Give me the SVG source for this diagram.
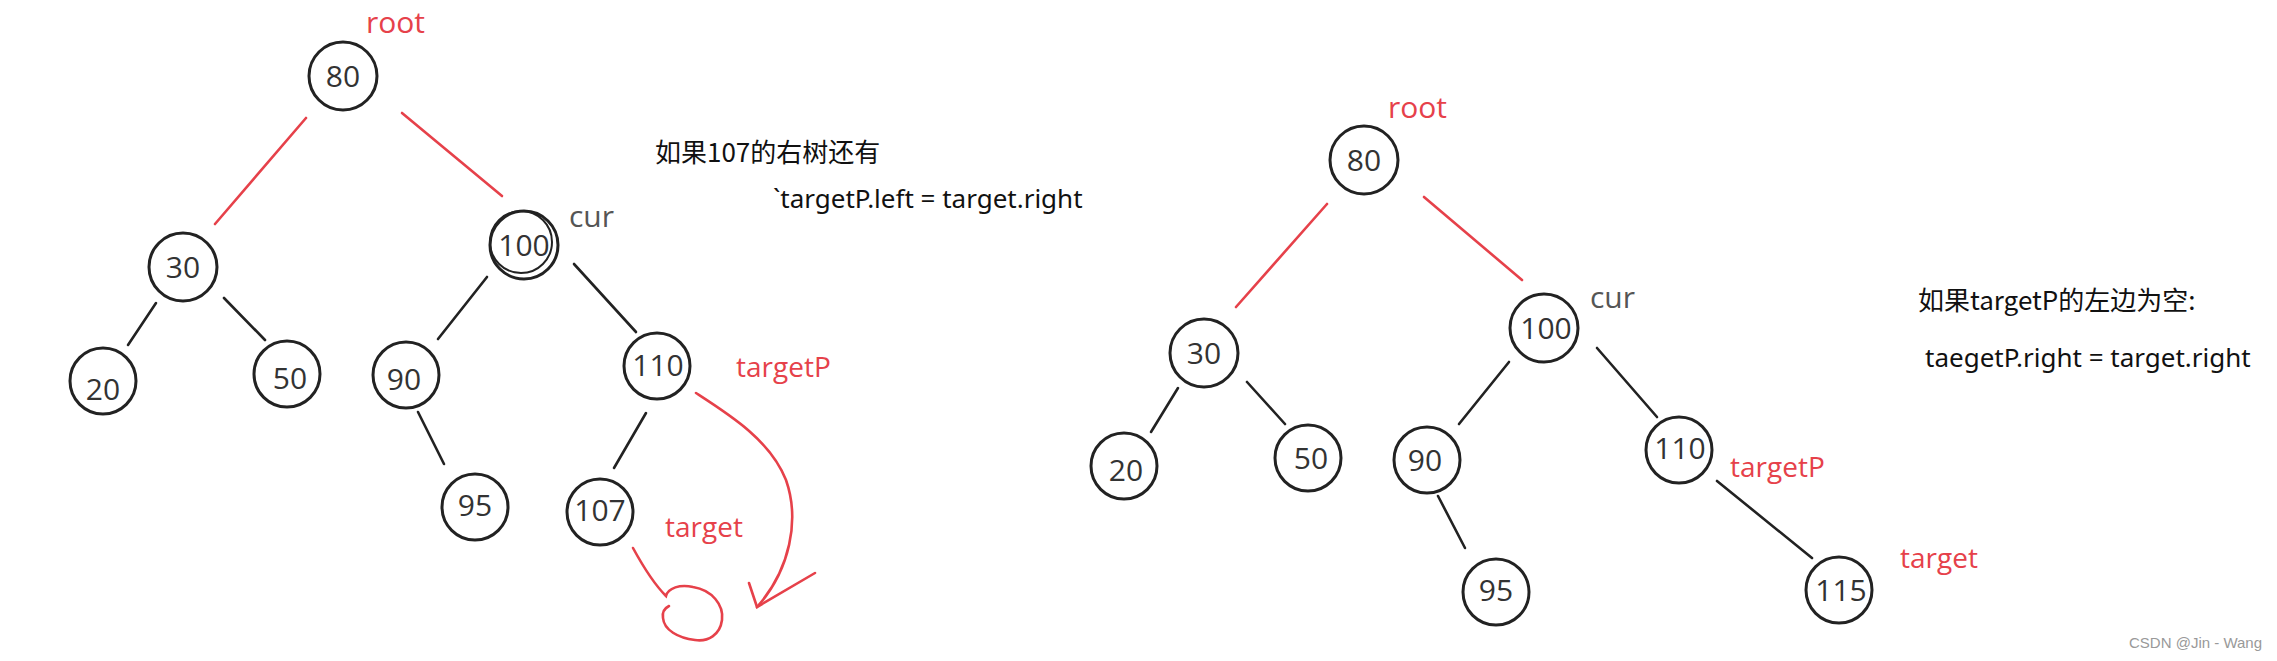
<svg xmlns="http://www.w3.org/2000/svg" width="2277" height="661" viewBox="0 0 2277 661">
<style>
.n circle{fill:none;stroke:#222;stroke-width:3}
.n text{font-family:"Open Sans","Noto Sans",sans-serif;font-size:30px;fill:#333;text-anchor:middle}
.e{stroke:#222;stroke-width:2.6;fill:none;stroke-linecap:round}
.r{stroke:#e6414a;stroke-width:2.6;fill:none;stroke-linecap:round}
.lbl{font-family:"Open Sans","Noto Sans",sans-serif;font-size:30px;fill:#e6414a}
.cur{font-family:"Open Sans","Noto Sans",sans-serif;font-size:30px;fill:#555}
.note{font-family:"Noto Sans CJK SC","Noto Sans",sans-serif;font-size:26px;fill:#111}
.code{font-family:"Noto Sans","Open Sans",sans-serif;font-size:26px;fill:#111}
.wm{font-family:"Liberation Sans",sans-serif;font-size:15px;fill:#999}
</style>
<rect width="2277" height="661" fill="#fff"/>
<g id="connectors">
<line class="r" x1="306" y1="118" x2="215" y2="224"/>
<line class="r" x1="402" y1="113" x2="502" y2="196"/>
<line class="e" x1="156" y1="303" x2="128" y2="345"/>
<line class="e" x1="224" y1="298" x2="265" y2="340"/>
<line class="e" x1="487" y1="277" x2="438" y2="339"/>
<line class="e" x1="574" y1="264" x2="636" y2="332"/>
<line class="e" x1="418" y1="412" x2="444" y2="464"/>
<line class="e" x1="646" y1="413" x2="614" y2="468"/>
<path class="r" d="M696,393 C730,415 770,440 786,480 C800,520 790,570 757,607"/>
<path class="r" d="M815,573 L757,607 L749,583"/>
<path class="r" d="M633,548 C645,570 655,585 666,596 C668,588 680,584 693,587 C712,590 724,605 722,620 C720,635 708,642 695,640 C678,638 664,630 663,618 C662,612 665,608 669,606"/>
<line class="r" x1="1327" y1="204" x2="1236" y2="307"/>
<line class="r" x1="1424" y1="197" x2="1522" y2="280"/>
<line class="e" x1="1178" y1="388" x2="1151" y2="432"/>
<line class="e" x1="1247" y1="382" x2="1285" y2="424"/>
<line class="e" x1="1509" y1="362" x2="1459" y2="424"/>
<line class="e" x1="1597" y1="348" x2="1657" y2="417"/>
<line class="e" x1="1438" y1="496" x2="1465" y2="548"/>
<line class="e" x1="1717" y1="481" x2="1812" y2="558"/>
</g>
<g id="left-n80" class="n"><circle cx="343" cy="76" r="34"/><text x="343" y="87">80</text></g>
<g id="left-n30" class="n"><circle cx="183" cy="267" r="34"/><text x="183" y="278">30</text></g>
<g id="left-n100" class="n"><circle cx="524" cy="245" r="34"/><circle cx="521" cy="242" r="31" style="stroke-width:2"/><text x="524" y="256">100</text></g>
<g id="left-n20" class="n"><circle cx="103" cy="381" r="33"/><text x="103" y="400">20</text></g>
<g id="left-n50" class="n"><circle cx="287" cy="374" r="33"/><text x="290" y="389">50</text></g>
<g id="left-n90" class="n"><circle cx="406" cy="375" r="33"/><text x="404" y="390">90</text></g>
<g id="left-n110" class="n"><circle cx="657" cy="366" r="33"/><text x="658" y="376">110</text></g>
<g id="left-n95" class="n"><circle cx="475" cy="507" r="33"/><text x="475" y="516">95</text></g>
<g id="left-n107" class="n"><circle cx="600" cy="512" r="33"/><text x="600" y="521">107</text></g>
<g id="left-labels">
<text class="lbl" x="366" y="33">root</text>
<text class="cur" x="569" y="227">cur</text>
<text class="lbl" x="736" y="377" style="font-size:28px">targetP</text>
<text class="lbl" x="665" y="537" style="font-size:28px">target</text>
<text class="note" x="655" y="162">如果107的右树还有</text>
<text class="code" x="773" y="208">`targetP.left = target.right</text>
</g>
<g id="right-n80" class="n"><circle cx="1364" cy="160" r="34"/><text x="1364" y="171">80</text></g>
<g id="right-n30" class="n"><circle cx="1204" cy="353" r="34"/><text x="1204" y="364">30</text></g>
<g id="right-n100" class="n"><circle cx="1544" cy="328" r="34"/><text x="1546" y="339">100</text></g>
<g id="right-n20" class="n"><circle cx="1124" cy="466" r="33"/><text x="1126" y="481">20</text></g>
<g id="right-n50" class="n"><circle cx="1308" cy="458" r="33"/><text x="1311" y="469">50</text></g>
<g id="right-n90" class="n"><circle cx="1427" cy="460" r="33"/><text x="1425" y="471">90</text></g>
<g id="right-n110" class="n"><circle cx="1679" cy="450" r="33"/><text x="1680" y="459">110</text></g>
<g id="right-n95" class="n"><circle cx="1496" cy="592" r="33"/><text x="1496" y="601">95</text></g>
<g id="right-n115" class="n"><circle cx="1839" cy="590" r="33"/><text x="1841" y="601">115</text></g>
<g id="right-labels">
<text class="lbl" x="1388" y="118">root</text>
<text class="cur" x="1590" y="308">cur</text>
<text class="lbl" x="1730" y="477" style="font-size:28px">targetP</text>
<text class="lbl" x="1900" y="568" style="font-size:28px">target</text>
<text class="note" x="1918" y="310">如果targetP的左边为空:</text>
<text class="code" x="1925" y="367">taegetP.right = target.right</text>
<text class="wm" x="2129" y="648">CSDN @Jin - Wang</text>
</g>
</svg>
